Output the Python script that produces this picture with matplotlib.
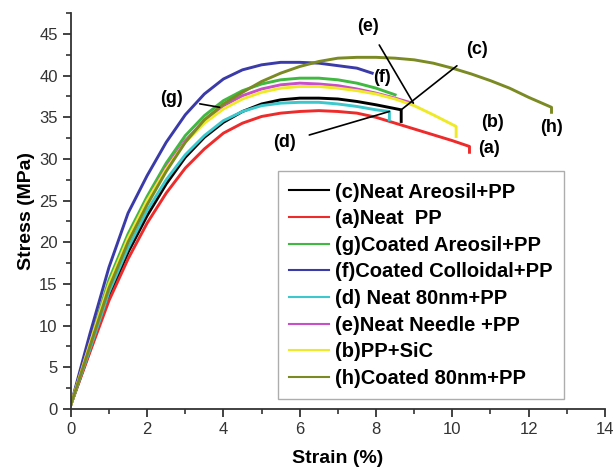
import matplotlib.pyplot as plt
from matplotlib.ticker import MultipleLocator

plt.rcParams['font.family'] = ['Liberation Sans', 'DejaVu Sans']

# (c) Neat Areosil+PP - black
xc = [0, 0.5, 1, 1.5, 2, 2.5, 3, 3.5, 4, 4.5, 5, 5.5, 6, 6.5, 7, 7.5, 8, 8.66, 8.66]
yc = [0.5, 7, 13.5, 18.8, 23.2, 27, 30.2, 32.6, 34.4, 35.7, 36.6, 37.1, 37.3, 37.3, 37.2, 36.9, 36.5, 35.9, 34.5]
# (a) Neat PP - red
xa = [0, 0.5, 1, 1.5, 2, 2.5, 3, 3.5, 4, 4.5, 5, 5.5, 6, 6.5, 7, 7.5, 8, 8.5, 9, 9.5, 10, 10.45, 10.45]
ya = [0.5, 6.8, 13, 18, 22.3, 25.9, 28.9, 31.2, 33.1, 34.3, 35.1, 35.5, 35.7, 35.8, 35.7, 35.5, 35.0, 34.3, 33.6, 32.9, 32.2, 31.5, 30.8]
# (g) Coated Areosil+PP - green
xg = [0, 0.5, 1, 1.5, 2, 2.5, 3, 3.5, 4, 4.5, 5, 5.5, 6, 6.5, 7, 7.5, 8, 8.5]
yg = [0.5, 8, 15.5, 21, 25.5, 29.5, 32.8, 35.2, 37, 38.2, 39, 39.5, 39.7, 39.7, 39.5, 39.1, 38.5, 37.7]
# (f) Coated Colloidal+PP - blue
xf = [0, 0.5, 1, 1.5, 2, 2.5, 3, 3.5, 4, 4.5, 5, 5.5, 6, 6.5, 7, 7.5, 7.9]
yf = [0.5, 9, 17, 23.5, 28, 32, 35.3, 37.8, 39.6, 40.7, 41.3, 41.6, 41.6, 41.5, 41.2, 40.9, 40.3]
# (d) Neat 80nm+PP - cyan
xd = [0, 0.5, 1, 1.5, 2, 2.5, 3, 3.5, 4, 4.5, 5, 5.5, 6, 6.5, 7, 7.5, 8, 8.35, 8.35]
yd = [0.5, 7.2, 14, 19.3, 23.8, 27.5, 30.5, 32.8, 34.6, 35.7, 36.4, 36.7, 36.8, 36.8, 36.6, 36.3, 35.9, 35.7, 34.7]
# (e) Neat Needle+PP - magenta
xe = [0, 0.5, 1, 1.5, 2, 2.5, 3, 3.5, 4, 4.5, 5, 5.5, 6, 6.5, 7, 7.5, 8, 8.5, 8.95]
ye = [0.5, 7.8, 15, 20.5, 25, 29, 32.2, 34.6, 36.4, 37.6, 38.4, 38.9, 39.1, 39.0, 38.8, 38.4, 37.9, 37.3, 36.7]
# (b) PP+SiC - yellow
xb = [0, 0.5, 1, 1.5, 2, 2.5, 3, 3.5, 4, 4.5, 5, 5.5, 6, 6.5, 7, 7.5, 8, 8.5, 9, 9.5, 10.1, 10.1]
yb = [0.5, 7.8, 15, 20.5, 25, 28.8, 32, 34.3, 36, 37.2, 38, 38.5, 38.7, 38.7, 38.5, 38.2, 37.8, 37.2, 36.4, 35.3, 33.9, 32.7]
# (h) Coated 80nm+PP - olive
xh = [0, 0.5, 1, 1.5, 2, 2.5, 3, 3.5, 4, 4.5, 5, 5.5, 6, 6.5, 7, 7.5, 8, 8.5, 9, 9.5, 10, 10.5, 11, 11.5, 12, 12.6, 12.6]
yh = [0.5, 7.5, 14.5, 20, 24.5, 28.5, 32, 34.7, 36.6, 38, 39.3, 40.3, 41.1, 41.7, 42.1, 42.2, 42.2, 42.1, 41.9, 41.5, 40.9, 40.2, 39.4, 38.5, 37.4, 36.2, 35.6]

fig = plt.figure(figsize=(6.16, 4.71), dpi=100)
ax = fig.add_axes([0.115, 0.132, 0.867, 0.84])

ax.plot(xc, yc, color='black', lw=2.1, label='(c)Neat Areosil+PP')
ax.plot(xa, ya, color='#ee2b2b', lw=2.1, label='(a)Neat  PP')
ax.plot(xg, yg, color='#3fb93f', lw=2.1, label='(g)Coated Areosil+PP')
ax.plot(xf, yf, color='#3a3aa8', lw=2.1, label='(f)Coated Colloidal+PP')
ax.plot(xd, yd, color='#3cc8cc', lw=2.1, label='(d) Neat 80nm+PP')
ax.plot(xe, ye, color='#c94fc9', lw=2.1, label='(e)Neat Needle +PP')
ax.plot(xb, yb, color='#eeea2a', lw=2.1, label='(b)PP+SiC')
ax.plot(xh, yh, color='#7b8a22', lw=2.1, label='(h)Coated 80nm+PP')

# annotation labels with leader lines
lab = dict(fontsize=13, fontweight='bold', ha='center', va='center')
ax.text(10.95, 31.2, '(a)', **lab)
ax.text(11.05, 34.4, '(b)', **lab)
ax.text(12.6, 33.8, '(h)', **lab)
ax.text(8.15, 39.8, '(f)', **lab)
ax.annotate('(e)', xy=(8.98, 36.7), xytext=(7.8, 45.9), arrowprops=dict(arrowstyle='-', color='black', lw=1.2, shrinkA=6, shrinkB=0), **lab)
ax.annotate('(c)', xy=(8.66, 35.9), xytext=(10.65, 43.1), arrowprops=dict(arrowstyle='-', color='black', lw=1.2, shrinkA=6, shrinkB=0), **lab)
ax.annotate('(d)', xy=(8.35, 35.7), xytext=(5.6, 32.0), arrowprops=dict(arrowstyle='-', color='black', lw=1.2, shrinkA=8, shrinkB=0), **lab)
ax.annotate('(g)', xy=(3.9, 36.2), xytext=(2.65, 37.2), arrowprops=dict(arrowstyle='-', color='black', lw=1.2, shrinkA=10, shrinkB=0), **lab)

ax.set_xlim(0, 14)
ax.set_ylim(0, 47.5)
ax.xaxis.set_major_locator(MultipleLocator(2))
ax.xaxis.set_minor_locator(MultipleLocator(1))
ax.yaxis.set_major_locator(MultipleLocator(5))
ax.yaxis.set_minor_locator(MultipleLocator(2.5))
ax.tick_params(which='major', direction='out', length=6, width=1.3, labelsize=12, colors='#333333')
ax.tick_params(which='minor', direction='out', length=3.5, width=1.2, colors='#333333')
for s in ['top', 'right']:
    ax.spines[s].set_visible(False)
for s in ['left', 'bottom']:
    ax.spines[s].set_linewidth(1.3)
    ax.spines[s].set_color('#333333')

ax.set_xlabel('Strain (%)', fontsize=14, fontweight='bold', labelpad=9)
ax.set_ylabel('Stress (MPa)', fontsize=14, fontweight='bold', labelpad=3)

leg = ax.legend(loc='upper left', bbox_to_anchor=(0.388, 0.6),
                fancybox=False, edgecolor='#999999', prop={'weight': 'bold', 'size': 14.5},
                handlelength=2.0, handletextpad=0.3, labelspacing=0.38, borderpad=0.55,
                borderaxespad=0)
for l in leg.get_lines():
    l.set_linewidth(1.5)

plt.savefig('out.png')
